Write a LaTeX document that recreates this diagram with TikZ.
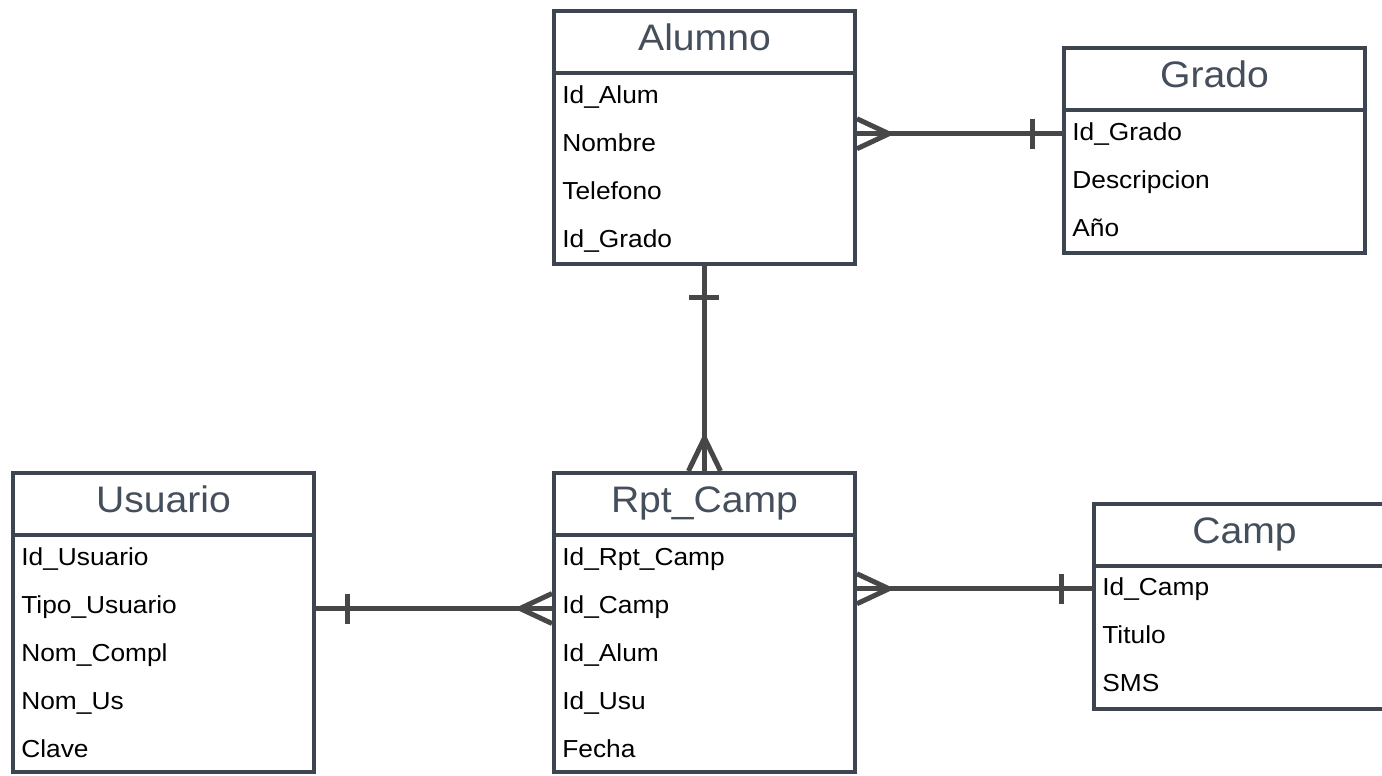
\documentclass[tikz,border=0pt]{standalone}
\usepackage{fontspec}
\setmainfont{Liberation Sans}
\newfontfamily\titlefont[FakeStretch=1.06]{Liberation Sans}
\newfontfamily\fieldfont[FakeStretch=1.07]{Liberation Sans}

\definecolor{tabline}{HTML}{3D4650}
\definecolor{titlegray}{HTML}{454F5B}
\definecolor{relline}{HTML}{474747}

\tikzset{
  tabhead/.style={draw=tabline, line width=0.09cm, fill=white, anchor=north west,
    minimum width=6.02cm, minimum height=1.24cm, inner sep=0, outer sep=0,
    font=\titlefont\fontsize{21}{25}\selectfont, text=titlegray,
    text height=0.54cm, text depth=0.2cm},
  tabbody/.style={draw=tabline, line width=0.09cm, fill=white, anchor=north,
    minimum width=6.02cm, inner sep=0, outer sep=0},
  field/.style={anchor=west, inner sep=0, font=\fieldfont\fontsize{14}{17}\selectfont,
    text height=0.35cm, text depth=0pt},
  rel/.style={draw=relline, line width=0.1cm}
}

\begin{document}
\begin{tikzpicture}[x=0.02cm, y=-0.02cm, line cap=butt, line join=miter]
            \path[use as bounding box, clip] (0,0) rectangle (1382,776);
            \fill[white] (0,0) rectangle (1382,776);

            % Tables
            \node[tabhead] (alumno) at (554,11) {Alumno};
            \node[tabbody, minimum height=3.82cm] (alumno body) at (alumno.south) {};
            \foreach \f [count=\i] in {Id\_Alum, Nombre, Telefono, Id\_Grado}
                \node[field] (alumno-\i) at (562,{47+48*\i}) {\f};

            \node[tabhead] (grado) at (1064,48) {Grado};
            \node[tabbody, minimum height=2.86cm] (grado body) at (grado.south) {};
            \foreach \f [count=\i] in {Id\_Grado, Descripcion, Año}
                \node[field] (grado-\i) at (1072,{84+48*\i}) {\f};

            \node[tabhead] (usuario) at (13,473) {Usuario};
            \node[tabbody, minimum height=4.74cm] (usuario body) at (usuario.south) {};
            \foreach \f [count=\i] in {Id\_Usuario, Tipo\_Usuario, Nom\_Compl, Nom\_Us, Clave}
                \node[field] (usuario-\i) at (21,{509+48*\i}) {\f};

            \node[tabhead] (rpt) at (554,473) {Rpt\_Camp};
            \node[tabbody, minimum height=4.74cm] (rpt body) at (rpt.south) {};
            \foreach \f [count=\i] in {Id\_Rpt\_Camp, Id\_Camp, Id\_Alum, Id\_Usu, Fecha}
                \node[field] (rpt-\i) at (562,{509+48*\i}) {\f};

            \node[tabhead] (camp) at (1094,504) {Camp};
            \node[tabbody, minimum height=2.86cm] (camp body) at (camp.south) {};
            \foreach \f [count=\i] in {Id\_Camp, Titulo, SMS}
                \node[field] (camp-\i) at (1102,{539+48*\i}) {\f};

            % Connector end points
            \coordinate (ag-a) at ([yshift=-1pt]alumno body.east |- grado-1);
            \coordinate (ag-g) at ([yshift=-1pt]grado body.west |- grado-1);
            \coordinate (ur-u) at ([yshift=-2pt]usuario body.east |- rpt-2);
            \coordinate (ur-r) at ([yshift=-2pt]rpt body.west |- rpt-2);
            \coordinate (rc-r) at ([yshift=-1pt]rpt body.east |- camp-1);
            \coordinate (rc-c) at ([yshift=-1pt]camp body.west |- camp-1);

            % Alumno -- Grado
            \draw[rel] (ag-a) -- (ag-g);
            \draw[rel] (ag-a) ++(2,-15) -- ++(32,15) -- ++(-32,15);
            \draw[rel] (ag-g) ++(-32,-15) -- ++(0,30);

            % Alumno -- Rpt_Camp
            \draw[rel] (alumno body.south) -- (rpt.north);
            \draw[rel] (alumno body.south) ++(-15,34) -- ++(30,0);
            \draw[rel] (rpt.north) ++(-16,-2) -- ++(16,-33) -- ++(16,33);

            % Usuario -- Rpt_Camp
            \draw[rel] (ur-u) -- (ur-r);
            \draw[rel] (ur-u) ++(34,-15) -- ++(0,30);
            \draw[rel] (ur-r) ++(-2,-15) -- ++(-32,15) -- ++(32,15);

            % Rpt_Camp -- Camp
            \draw[rel] (rc-r) -- (rc-c);
            \draw[rel] (rc-r) ++(2,-15) -- ++(32,15) -- ++(-32,15);
            \draw[rel] (rc-c) ++(-33,-15) -- ++(0,30);
        \end{tikzpicture}
\end{document}
